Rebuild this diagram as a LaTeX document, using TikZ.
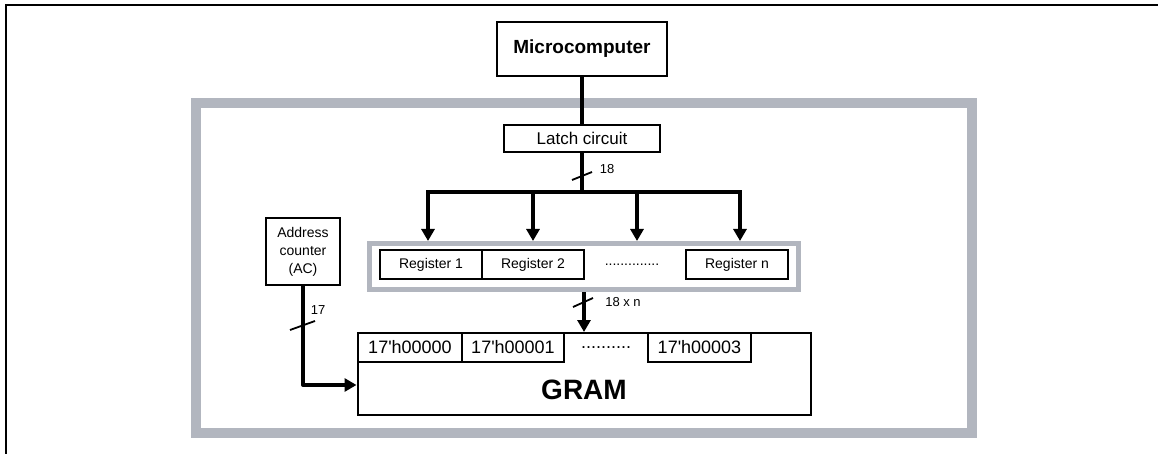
\documentclass[tikz,border=0pt]{standalone}
\usepackage{fontspec}
\setmainfont{Liberation Sans}
\usetikzlibrary{shapes,arrows.meta,positioning}
\definecolor{framegray}{RGB}{178,182,191}

\begin{document}
\begin{tikzpicture}[x=1pt,y=-1pt,
    box/.style={draw, line width=2pt, inner sep=0pt},
    bus/.style={line width=4pt},
    busarrow/.style={line width=4pt, line join=round, -{Triangle[width=13pt,length=12pt]}},
    tick/.style={line width=1.8pt}]
    \useasboundingbox (0,0) rectangle (1158,454);
    \draw[line width=2.5pt] (6,454) -- (6,5) -- (1158,5);
    \draw[framegray, line width=10pt] (196,103.5) rectangle (971.5,433);

    \node[box, minimum width=170pt, minimum height=54pt, font=\bfseries\fontsize{19}{22}\selectfont] (mcu) at (582,49) {Microcomputer};
    \node[box, minimum width=156pt, minimum height=27pt, font=\fontsize{17}{20}\selectfont] (latch) at (582,138.5) {Latch circuit};
    \draw[bus] (mcu.south) -- (latch.north);

    \coordinate (b1) at (428,192);
    \coordinate (b2) at (533,192);
    \coordinate (b3) at (637,192);
    \coordinate (b4) at (740,192);
    \draw[bus] (latch.south) -- (latch.south |- b1);
    \draw[bus, line cap=rect] (b1) -- (b4);
    \coordinate (t18) at (582,176);
    \draw[tick] ([shift={(-10,4)}]t18) -- ([shift={(10,-4)}]t18);
    \node[font=\fontsize{13}{15}\selectfont] (n18) at (607,169) {18};

    \node[draw=framegray, line width=5pt, minimum width=429pt, minimum height=46pt] (regframe) at (584,266.5) {};
    \foreach \b in {b1,b2,b3,b4}
        \draw[busarrow] (\b) -- (\b |- regframe.north);

    \node[box, minimum width=102pt, minimum height=29pt, font=\fontsize{14}{17}\selectfont] (reg1) at (431,264.5) {Register 1};
    \node[box, minimum width=102pt, minimum height=29pt, font=\fontsize{14}{17}\selectfont] (reg2) at (533,264.5) {Register 2};
    \node[font=\fontsize{14}{17}\selectfont] (regdots) at (632,264.5) {..............};
    \node[box, minimum width=102pt, minimum height=29pt, font=\fontsize{14}{17}\selectfont] (regn) at (737,264.5) {Register n};

    \node[box, minimum width=453pt, minimum height=82pt] (gram) at (584,374) {};
    \node[box, minimum width=104pt, minimum height=29pt, font=\fontsize{18}{21}\selectfont] (cell0) at (410,347.5) {17\textquotesingle h00000};
    \node[box, minimum width=102pt, minimum height=29pt, font=\fontsize{18}{21}\selectfont] (cell1) at (513,347.5) {17\textquotesingle h00001};
    \node[font=\fontsize{18}{21}\selectfont] (celldots) at (606,347.5) {..........};
    \node[box, minimum width=103pt, minimum height=29pt, font=\fontsize{18}{21}\selectfont] (cell3) at (699.5,347.5) {17\textquotesingle h00003};
    \node[font=\bfseries\fontsize{28}{32}\selectfont] (gramlbl) at (584,390) {GRAM};

    \draw[busarrow] (regframe.south) -- (gram.north);
    \coordinate (tn) at (583,302.5);
    \draw[tick] ([shift={(-10,4.5)}]tn) -- ([shift={(10,-4.5)}]tn);
    \node[font=\fontsize{13}{15}\selectfont] (n18n) at (623,302) {18 x n};

    \node[box, minimum width=74pt, minimum height=67pt, align=center, font=\fontsize{14}{18}\selectfont] (ac) at (303,251.5) {Address\\counter\\(AC)};
    \coordinate (acbend) at (ac.south |- 0,385);
    \draw[busarrow] (ac.south) -- (acbend) -- (acbend -| gram.west);
    \coordinate (t17) at (302.5,325.5);
    \draw[tick] ([shift={(-12.5,4.5)}]t17) -- ([shift={(12.5,-4.5)}]t17);
    \node[font=\fontsize{13}{15}\selectfont] (n17) at (318,310) {17};
\end{tikzpicture}
\end{document}
